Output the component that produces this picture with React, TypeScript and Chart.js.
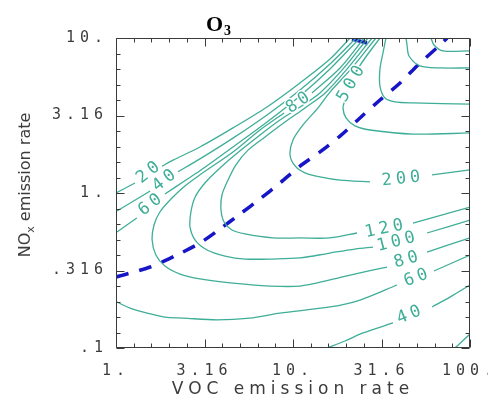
import React, { useEffect, useRef } from 'react';
import { Chart, registerables } from 'chart.js';

Chart.register(...registerables);

type Pair = [number, number]; // [VOC emission rate, NOx emission rate]

// ---- axis ticks ----
const X_TICKS = [1, 3.162, 10, 31.62, 100];
const X_TICK_LABELS = ['1.', '3.16', '10.', '31.6', '100.'];
const Y_TICKS = [0.1, 0.3162, 1, 3.162, 10];
const Y_TICK_LABELS = ['.1', '.316', '1.', '3.16', '10.'];

// ---- O3 isopleths (segments split where a label sits) ----
const O3_20_UPPER: Pair[][] = [
  [[1.0, 1.0], [1.28, 1.16]],
  [[1.82, 1.49], [2.1, 1.63], [2.98, 1.98], [4.58, 2.63], [7.13, 3.59], [10.95, 5.13], [16.18, 7.32], [20.99, 10]],
];
const O3_40_UPPER: Pair[][] = [
  [[1.013, 0.765], [1.56, 1.03]],
  [[2.24, 1.37], [2.98, 1.66], [4.58, 2.26], [7.13, 3.19], [10.95, 4.62], [16.18, 6.8], [22.7, 10]],
];
const O3_60_UPPER: Pair[][] = [
  [[1.013, 0.56], [1.31, 0.69]],
  [[1.89, 0.985], [2.45, 1.2], [2.98, 1.39], [4.58, 1.98], [7.13, 2.87], [10.95, 4.23], [16.18, 6.31], [23.9, 10]],
];
const O3_80: Pair[][] = [
  [[25.2, 10], [18.44, 6.41], [12.81, 4.42]],
  [[8.9, 3.28], [6.51, 2.55], [4.58, 1.84], [2.98, 1.31], [2.45, 1.11], [2.07, 0.928], [1.77, 0.754], [1.64, 0.622],
   [1.6, 0.497], [1.68, 0.398], [1.89, 0.338], [2.3, 0.3], [2.98, 0.279], [4.41, 0.263], [7.42, 0.251], [10.95, 0.251],
   [16.18, 0.275], [23.9, 0.305], [33.97, 0.333]],
  [[57.16, 0.416], [100, 0.513]],
];
const O3_100: Pair[][] = [
  [[26.5, 10], [19.4, 6.41], [14.2, 4.42], [10.95, 3.59], [8.44, 2.96], [6.51, 2.37], [5.02, 1.87], [3.87, 1.45],
   [3.18, 1.16], [2.8, 0.942], [2.65, 0.754], [2.62, 0.604], [2.8, 0.497], [3.27, 0.429], [4.13, 0.392], [5.36, 0.375],
   [7.71, 0.375], [10.95, 0.381], [16.18, 0.41], [22.4, 0.435], [28.31, 0.448]],
  [[57.16, 0.552], [100, 0.669]],
];
const O3_120: Pair[][] = [
  [[27.95, 10], [20.45, 6.41], [15.2, 4.42], [11.69, 3.54], [9.01, 2.87], [6.95, 2.3], [5.57, 1.89], [4.76, 1.52],
   [4.29, 1.21], [3.97, 0.971], [3.92, 0.777], [4.08, 0.65], [4.52, 0.577], [5.36, 0.544], [7.71, 0.513],
   [10.95, 0.513], [16.18, 0.513], [22.99, 0.552]],
  [[47.64, 0.64], [100, 0.812]],
];
const O3_200: Pair[][] = [
  [[29.4, 10], [21.54, 6.41], [16.18, 4.48], [13.85, 3.54], [11.39, 2.75], [10.0, 2.2], [9.62, 1.76], [10.3, 1.49],
   [11.69, 1.35], [14.21, 1.27], [18.44, 1.21], [27.23, 1.18]],
  [[61.0, 1.31], [100, 1.41]],
];
const O3_500: Pair[][] = [
  [[31.0, 10], [25.52, 7.43], [22.99, 6.22]],
  [[19.67, 3.98], [19.16, 3.54], [19.93, 3.05], [22.4, 2.71], [27.23, 2.55], [47.64, 2.4], [100, 2.44]],
];
const O3_INNER_A: Pair[][] = [
  [[33.5, 10], [32.3, 8.12], [31.0, 6.31], [31.0, 4.9], [33.09, 4.1], [37.7, 3.87], [47.64, 3.81], [100, 3.75]],
];
const O3_INNER_B: Pair[][] = [
  [[43.5, 10], [44.08, 9.01], [45.24, 7.65], [52.19, 6.6], [67.7, 6.41], [100, 6.41]],
];
const O3_INNER_C: Pair[][] = [
  [[60.2, 10], [62.6, 9.01], [70.4, 8.25], [100, 8.25]],
];
const O3_60_LOWER: Pair[][] = [
  [[1.013, 0.198], [1.2, 0.181], [1.5, 0.168], [1.89, 0.158], [2.39, 0.156], [3.72, 0.152], [5.71, 0.156],
   [8.44, 0.168], [16.18, 0.184], [23.9, 0.204], [38.7, 0.255]],
  [[62.6, 0.314], [100, 0.398]],
];
const O3_40_LOWER: Pair[][] = [
  [[15.56, 0.1], [19.67, 0.111], [24.86, 0.125], [36.73, 0.145]],
  [[61.0, 0.184], [77.1, 0.213], [100, 0.255]],
];
const O3_20_LOWER: Pair[][] = [
  [[82.3, 0.1], [100, 0.123]],
];

// ---- ridge line (dashed) ----
const RIDGE: Pair[] = [
  [1.0, 0.287], [1.56, 0.333], [2.15, 0.392], [2.98, 0.476], [3.87, 0.586], [5.02, 0.732], [6.51, 0.915],
  [8.44, 1.16], [10.95, 1.49], [14.21, 1.84], [18.44, 2.33], [23.9, 3.05], [31.0, 3.98], [40.23, 5.13],
  [52.19, 6.9], [67.7, 9.01], [74.2, 10],
];
const RIDGE_TOP: Pair[] = [[21.54, 9.85], [26.19, 9.28]];

// ---- contour labels ----
const LABEL_TEXT = ['20', '40', '60', '80', '500', '200', '120', '100', '80', '60', '40'];
const LABEL_VOC = [1.52, 1.87, 1.56, 10.67, 21.27, 40.8, 32.7, 38.2, 43.5, 49.5, 45.2];
const LABEL_NOX = [1.35, 1.2, 0.837, 3.81, 5.05, 1.23, 0.586, 0.483, 0.37, 0.283, 0.163];

// styles
const LABEL_ANGLE = [-38, -38, -38, -35, -60, -6, -12, -14, -16, -20, -22];
const TEAL = '#3fae98';
const BLUE = '#1616c8';
const TEXT = '#3c3c3c';

const CONTOURS: Pair[][][] = [
  O3_20_UPPER, O3_40_UPPER, O3_60_UPPER, O3_80, O3_100, O3_120, O3_200, O3_500,
  O3_INNER_A, O3_INNER_B, O3_INNER_C, O3_60_LOWER, O3_40_LOWER, O3_20_LOWER,
];

function toPoints(segs: Pair[][]) {
  const out: { x: number; y: number | null }[] = [];
  segs.forEach((seg, i) => {
    if (i > 0) out.push({ x: seg[0][0], y: null });
    seg.forEach(([x, y]) => out.push({ x, y }));
  });
  return out;
}

const decorPlugin = {
  id: 'decor',
  beforeDraw(chart: any) {
    chart.ctx.letterSpacing = '5px';
  },
  afterDraw(chart: any) {
    const ctx = chart.ctx;
    const { left, right, top, bottom } = chart.chartArea;
    const xs = chart.scales.x;
    const ys = chart.scales.y;
    ctx.save();

    // contour labels
    ctx.letterSpacing = '4px';
    ctx.font = '17px "DejaVu Sans Mono"';
    ctx.textAlign = 'center';
    ctx.textBaseline = 'middle';
    LABEL_TEXT.forEach((t, i) => {
      const px = xs.getPixelForValue(LABEL_VOC[i]);
      const py = ys.getPixelForValue(LABEL_NOX[i]);
      ctx.save();
      ctx.translate(px, py);
      ctx.rotate((LABEL_ANGLE[i] * Math.PI) / 180);
      ctx.strokeStyle = '#ffffff';
      ctx.lineWidth = 3;
      ctx.strokeText(t, 2, 0);
      ctx.fillStyle = TEAL;
      ctx.fillText(t, 2, 0);
      ctx.restore();
    });

    // frame
    ctx.strokeStyle = '#3a3a3a';
    ctx.lineWidth = 1;
    const L = Math.round(left) + 0.5, R = Math.round(right) - 0.5;
    const T = Math.round(top) + 0.5, B = Math.round(bottom) - 0.5;
    ctx.beginPath();
    ctx.rect(L, T, R - L, B - T);
    ctx.stroke();
    ctx.beginPath();
    for (let k = 0; k <= 20; k++) {
      const len = k % 5 === 0 ? 8 : 4;
      const px = Math.round(xs.getPixelForValue(Math.pow(10, k / 10))) + 0.5;
      ctx.moveTo(px, B); ctx.lineTo(px, B - len);
      ctx.moveTo(px, T); ctx.lineTo(px, T + len);
      const py = Math.round(ys.getPixelForValue(0.1 * Math.pow(10, k / 10))) + 0.5;
      ctx.moveTo(L, py); ctx.lineTo(L + len, py);
      ctx.moveTo(R, py); ctx.lineTo(R - len, py);
    }
    ctx.stroke();

    // title O3
    ctx.letterSpacing = '0px';
    ctx.fillStyle = '#000';
    ctx.textAlign = 'left';
    ctx.textBaseline = 'alphabetic';
    ctx.font = 'bold 22px "Liberation Serif"';
    ctx.fillText('O', 198, 23);
    const wO = ctx.measureText('O').width;
    ctx.font = 'bold 14px "Liberation Serif"';
    ctx.fillText('3', 198 + wO + 1, 27);

    // y-axis title NOx emission rate
    ctx.fillStyle = TEXT;
    const f1 = '16px "DejaVu Sans"';
    const f2 = '11px "DejaVu Sans"';
    ctx.font = f1;
    const wNO = ctx.measureText('NO').width;
    const wRest = ctx.measureText(' emission rate').width;
    ctx.font = f2;
    const wx = ctx.measureText('x').width;
    const total = wNO + wx + wRest;
    ctx.translate(18, (top + bottom) / 2 - 8);
    ctx.rotate(-Math.PI / 2);
    ctx.textBaseline = 'middle';
    let cx = -total / 2;
    ctx.font = f1;
    ctx.fillText('NO', cx, 0);
    cx += wNO;
    ctx.font = f2;
    ctx.fillText('x', cx, 5);
    cx += wx;
    ctx.font = f1;
    ctx.fillText(' emission rate', cx, 0);

    ctx.restore();
    ctx.letterSpacing = '0px';
  },
};

export default function App() {
  const ref = useRef<HTMLCanvasElement>(null);
  useEffect(() => {
    const datasets: any[] = CONTOURS.map((segs, i) => ({
      label: 'O3 contour ' + i,
      data: toPoints(segs),
      showLine: true,
      borderColor: TEAL,
      borderWidth: 1.3,
      pointRadius: 0,
      tension: 0.3,
      spanGaps: false,
    }));
    datasets.push({
      label: 'ridge',
      data: RIDGE.map(([x, y]) => ({ x, y })),
      showLine: true,
      borderColor: BLUE,
      borderWidth: 3.5,
      borderDash: [13, 11],
      pointRadius: 0,
      tension: 0.3,
    });
    datasets.push({
      label: 'ridge top',
      data: RIDGE_TOP.map(([x, y]) => ({ x, y })),
      showLine: true,
      borderColor: BLUE,
      borderWidth: 3.5,
      pointRadius: 0,
    });

    const chart = new Chart(ref.current as HTMLCanvasElement, {
      type: 'scatter',
      data: { datasets },
      options: {
        animation: false,
        responsive: false,
        maintainAspectRatio: false,
        layout: { padding: { top: 30, right: 18, left: 0, bottom: 0 } },
        plugins: { legend: { display: false }, tooltip: { enabled: false }, title: { display: false } },
        scales: {
          x: {
            type: 'logarithmic',
            position: 'bottom',
            min: 1,
            max: 100,
            grid: { display: false, drawTicks: false },
            border: { display: false },
            afterBuildTicks: (s: any) => { s.ticks = X_TICKS.map((v) => ({ value: v })); },
            afterFit: (s: any) => { s.height = 48; s.paddingLeft = 0; s.paddingRight = 0; },
            ticks: {
              autoSkip: false,
              maxRotation: 0,
              minRotation: 0,
              padding: 14,
              color: TEXT,
              font: { family: 'DejaVu Sans Mono', size: 15 },
              callback: (_v: any, i: number) => X_TICK_LABELS[i],
            },
            title: {
              display: true,
              text: 'VOC emission rate',
              color: TEXT,
              font: { family: 'DejaVu Sans', size: 17, lineHeight: 1 },
              padding: { top: 0, bottom: -2 },
            },
          },
          y: {
            type: 'logarithmic',
            position: 'left',
            min: 0.1,
            max: 10,
            grid: { display: false, drawTicks: false },
            border: { display: false },
            afterBuildTicks: (s: any) => { s.ticks = Y_TICKS.map((v) => ({ value: v })); },
            afterFit: (s: any) => { s.width = 108; s.paddingTop = 0; s.paddingBottom = 0; },
            ticks: {
              autoSkip: false,
              padding: 8,
              color: TEXT,
              font: { family: 'DejaVu Sans Mono', size: 15 },
              callback: (_v: any, i: number) => Y_TICK_LABELS[i],
            },
          },
        },
      },
      plugins: [decorPlugin],
    } as any);
    return () => chart.destroy();
  }, []);
  return (
    <div style={{ width: 480, height: 388 }}>
      <canvas ref={ref} width={480} height={388} style={{ display: 'block' }} />
    </div>
  );
}
